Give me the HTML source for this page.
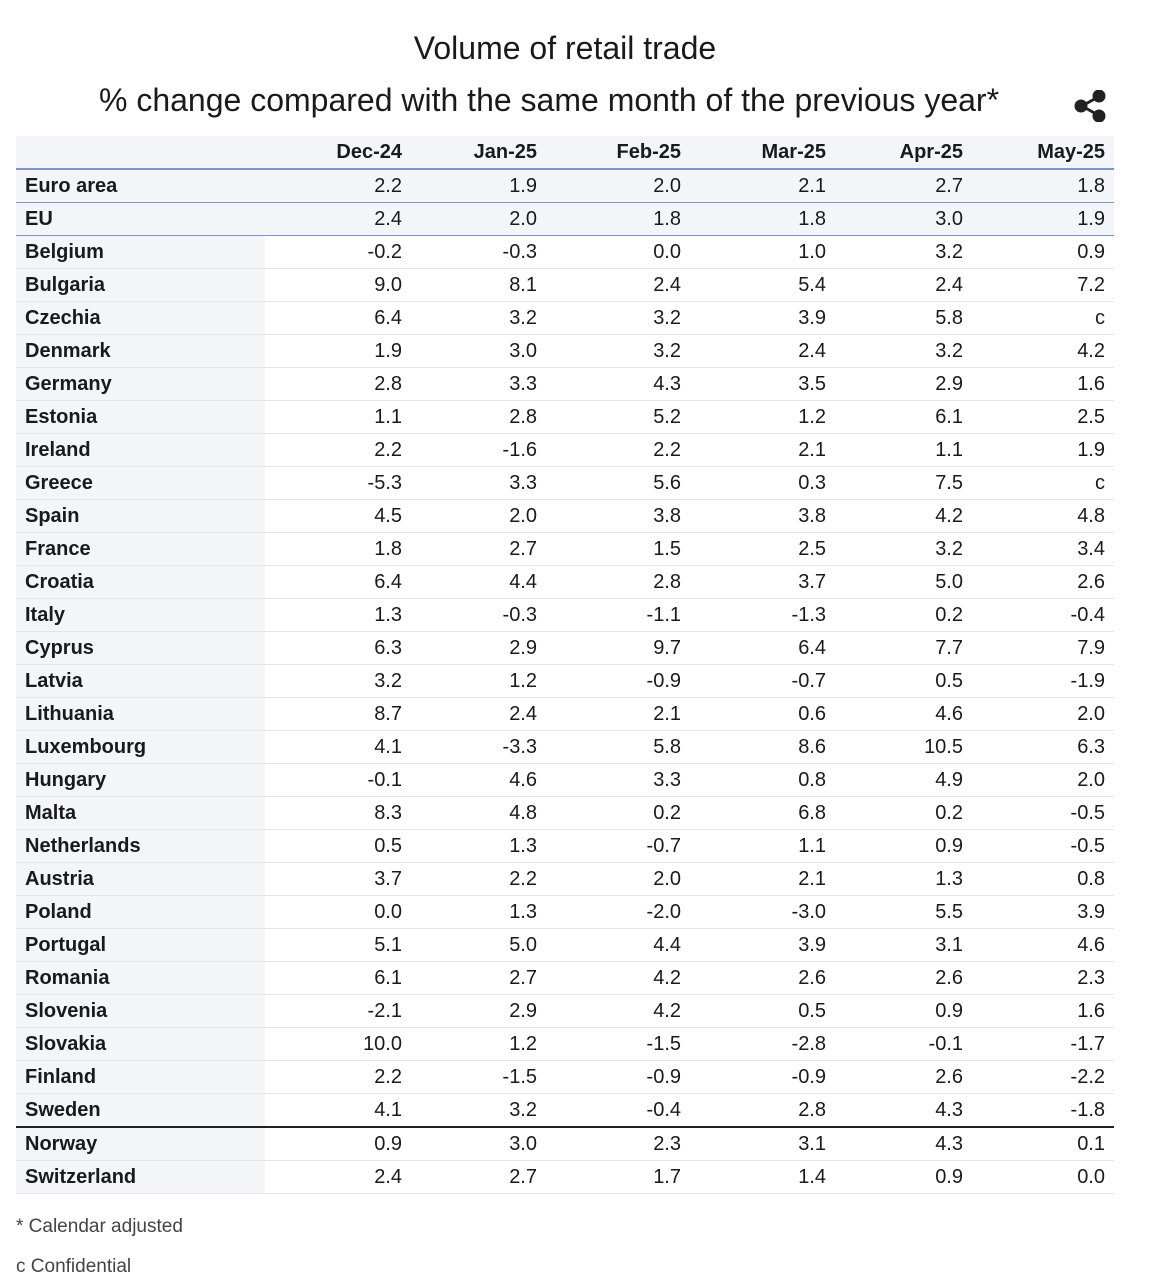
<!DOCTYPE html>
<html><head><meta charset="utf-8"><style>
body{margin:0;background:#fff;width:1156px;height:1282px;position:relative;font-family:"Liberation Sans",Arial,sans-serif;color:#1a1a1a;overflow:hidden}
.t{position:absolute;left:0;width:1130px;text-align:center;font-size:32px;white-space:nowrap}
table{position:absolute;left:16px;top:136px;width:1098px;border-collapse:collapse;font-size:20px}
td,th{height:32px;padding:0;text-align:right;border-bottom:1px solid #e3e5e8}
th{font-weight:bold;background:#f4f5f8;border-bottom:2px solid #7b96c4}
td:first-child,th:first-child{text-align:left;padding-left:9px;font-weight:bold;background:#f4f5f8;width:240px}
td:last-child,th:last-child{padding-right:9px}
tr.b td{background:#f4f5f8;border-bottom:1px solid #7b96c4}
tr.k td{border-bottom:2px solid #222}
.c1{width:137px}.c2{width:135px}.c3{width:144px}.c4{width:145px}.c5{width:137px}
.f{position:absolute;left:16px;font-size:19px;color:#444}
</style></head><body>
<div class="t" style="top:30px">Volume of retail trade</div>
<div class="t" style="top:82px;left:0;width:1098px">% change compared with the same month of the previous year*</div>
<svg style="position:absolute;left:1074px;top:90px" width="32" height="32" viewBox="0 0 32 32"><g fill="#222" stroke="#222" stroke-width="3"><line x1="8" y1="16" x2="24" y2="7"/><line x1="8" y1="16" x2="24" y2="25"/><circle cx="7" cy="16" r="5"/><circle cx="25" cy="6" r="5"/><circle cx="25" cy="26" r="5"/></g></svg>
<table>
<tr><th></th><th class="c1">Dec-24</th><th class="c2">Jan-25</th><th class="c3">Feb-25</th><th class="c4">Mar-25</th><th class="c5">Apr-25</th><th>May-25</th></tr>
<tr class="b"><td>Euro area</td><td>2.2</td><td>1.9</td><td>2.0</td><td>2.1</td><td>2.7</td><td>1.8</td></tr>
<tr class="b"><td>EU</td><td>2.4</td><td>2.0</td><td>1.8</td><td>1.8</td><td>3.0</td><td>1.9</td></tr>
<tr><td>Belgium</td><td>-0.2</td><td>-0.3</td><td>0.0</td><td>1.0</td><td>3.2</td><td>0.9</td></tr>
<tr><td>Bulgaria</td><td>9.0</td><td>8.1</td><td>2.4</td><td>5.4</td><td>2.4</td><td>7.2</td></tr>
<tr><td>Czechia</td><td>6.4</td><td>3.2</td><td>3.2</td><td>3.9</td><td>5.8</td><td>c</td></tr>
<tr><td>Denmark</td><td>1.9</td><td>3.0</td><td>3.2</td><td>2.4</td><td>3.2</td><td>4.2</td></tr>
<tr><td>Germany</td><td>2.8</td><td>3.3</td><td>4.3</td><td>3.5</td><td>2.9</td><td>1.6</td></tr>
<tr><td>Estonia</td><td>1.1</td><td>2.8</td><td>5.2</td><td>1.2</td><td>6.1</td><td>2.5</td></tr>
<tr><td>Ireland</td><td>2.2</td><td>-1.6</td><td>2.2</td><td>2.1</td><td>1.1</td><td>1.9</td></tr>
<tr><td>Greece</td><td>-5.3</td><td>3.3</td><td>5.6</td><td>0.3</td><td>7.5</td><td>c</td></tr>
<tr><td>Spain</td><td>4.5</td><td>2.0</td><td>3.8</td><td>3.8</td><td>4.2</td><td>4.8</td></tr>
<tr><td>France</td><td>1.8</td><td>2.7</td><td>1.5</td><td>2.5</td><td>3.2</td><td>3.4</td></tr>
<tr><td>Croatia</td><td>6.4</td><td>4.4</td><td>2.8</td><td>3.7</td><td>5.0</td><td>2.6</td></tr>
<tr><td>Italy</td><td>1.3</td><td>-0.3</td><td>-1.1</td><td>-1.3</td><td>0.2</td><td>-0.4</td></tr>
<tr><td>Cyprus</td><td>6.3</td><td>2.9</td><td>9.7</td><td>6.4</td><td>7.7</td><td>7.9</td></tr>
<tr><td>Latvia</td><td>3.2</td><td>1.2</td><td>-0.9</td><td>-0.7</td><td>0.5</td><td>-1.9</td></tr>
<tr><td>Lithuania</td><td>8.7</td><td>2.4</td><td>2.1</td><td>0.6</td><td>4.6</td><td>2.0</td></tr>
<tr><td>Luxembourg</td><td>4.1</td><td>-3.3</td><td>5.8</td><td>8.6</td><td>10.5</td><td>6.3</td></tr>
<tr><td>Hungary</td><td>-0.1</td><td>4.6</td><td>3.3</td><td>0.8</td><td>4.9</td><td>2.0</td></tr>
<tr><td>Malta</td><td>8.3</td><td>4.8</td><td>0.2</td><td>6.8</td><td>0.2</td><td>-0.5</td></tr>
<tr><td>Netherlands</td><td>0.5</td><td>1.3</td><td>-0.7</td><td>1.1</td><td>0.9</td><td>-0.5</td></tr>
<tr><td>Austria</td><td>3.7</td><td>2.2</td><td>2.0</td><td>2.1</td><td>1.3</td><td>0.8</td></tr>
<tr><td>Poland</td><td>0.0</td><td>1.3</td><td>-2.0</td><td>-3.0</td><td>5.5</td><td>3.9</td></tr>
<tr><td>Portugal</td><td>5.1</td><td>5.0</td><td>4.4</td><td>3.9</td><td>3.1</td><td>4.6</td></tr>
<tr><td>Romania</td><td>6.1</td><td>2.7</td><td>4.2</td><td>2.6</td><td>2.6</td><td>2.3</td></tr>
<tr><td>Slovenia</td><td>-2.1</td><td>2.9</td><td>4.2</td><td>0.5</td><td>0.9</td><td>1.6</td></tr>
<tr><td>Slovakia</td><td>10.0</td><td>1.2</td><td>-1.5</td><td>-2.8</td><td>-0.1</td><td>-1.7</td></tr>
<tr><td>Finland</td><td>2.2</td><td>-1.5</td><td>-0.9</td><td>-0.9</td><td>2.6</td><td>-2.2</td></tr>
<tr class="k"><td>Sweden</td><td>4.1</td><td>3.2</td><td>-0.4</td><td>2.8</td><td>4.3</td><td>-1.8</td></tr>
<tr><td>Norway</td><td>0.9</td><td>3.0</td><td>2.3</td><td>3.1</td><td>4.3</td><td>0.1</td></tr>
<tr><td>Switzerland</td><td>2.4</td><td>2.7</td><td>1.7</td><td>1.4</td><td>0.9</td><td>0.0</td></tr>
</table>
<div class="f" style="top:1216px">* Calendar adjusted</div>
<div class="f" style="top:1256px">c Confidential</div>
</body></html>
